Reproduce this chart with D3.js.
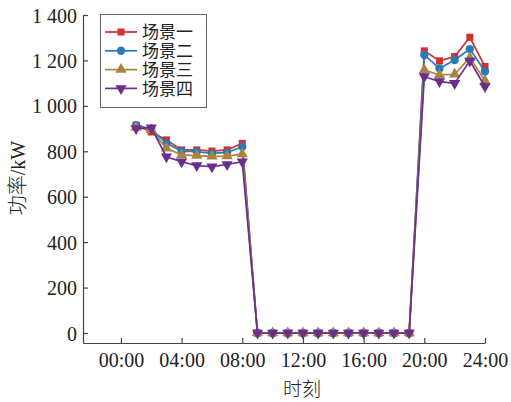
<!DOCTYPE html>
<html>
<head>
<meta charset="utf-8">
<script src="https://cdn.jsdelivr.net/npm/d3@7"></script>
<style>
  html, body { margin: 0; padding: 0; background: #fff; }
  svg { display: block; }
  text { font-family: "Liberation Serif", "Times New Roman", "Noto Sans CJK SC", serif; }
</style>
</head>
<body>
<svg id="chart" width="511" height="402"></svg>
<script>
const hours = d3.range(1, 25);
const seriesNames = ["场景一", "场景二", "场景三", "场景四"];
const scene1 = [915, 885, 850, 806, 806, 801, 806, 835, 0, 0, 0, 0, 0, 0, 0, 0, 0, 0, 0, 1242, 1198, 1217, 1302, 1173];
const scene2 = [915, 898, 835, 801, 798, 791, 795, 820, 0, 0, 0, 0, 0, 0, 0, 0, 0, 0, 0, 1224, 1165, 1202, 1250, 1151];
const scene3 = [905, 895, 813, 784, 781, 778, 779, 788, 0, 0, 0, 0, 0, 0, 0, 0, 0, 0, 0, 1158, 1136, 1139, 1212, 1110];
const scene4 = [900, 904, 776, 754, 737, 732, 742, 754, 0, 0, 0, 0, 0, 0, 0, 0, 0, 0, 0, 1129, 1107, 1099, 1198, 1085];
const yTicks = [0, 200, 400, 600, 800, 1000, 1200, 1400];
const xTicks = [0, 4, 8, 12, 16, 20, 24];
const xTickLabels = ["00:00", "04:00", "08:00", "12:00", "16:00", "20:00", "24:00"];
const colors = ["#d42e2e", "#2a7ab8", "#a8843c", "#6a2d90"];
const symbols = [d3.symbolSquare, d3.symbolCircle, d3.symbolTriangle, "down"];

const allSeries = [scene1, scene2, scene3, scene4];

const svg = d3.select("#chart");
const x = d3.scaleLinear().domain([-2.5, 24]).range([83, 485]);
const y = d3.scaleLinear().domain([-44, 1400]).range([343, 15]);
const axisColor = "#444";

const fmtY = d => d >= 1000 ? Math.floor(d / 1000) + " " + String(d % 1000).padStart(3, "0") : String(d);

// Y axis
const yAxis = svg.append("g").attr("transform", "translate(83,0)")
  .call(d3.axisLeft(y).tickValues(yTicks).tickFormat(fmtY).tickSizeInner(-5).tickSizeOuter(0).tickPadding(6));
yAxis.select(".domain").attr("stroke", axisColor).attr("stroke-width", 1.2);
yAxis.selectAll(".tick line").attr("stroke", axisColor).attr("stroke-width", 1.2);
yAxis.selectAll(".tick text").attr("font-size", 20).attr("fill", "#222")
  .attr("font-family", "'Liberation Serif', serif").attr("dy", "0.35em");

// X axis
const xAxis = svg.append("g").attr("transform", "translate(0,343)")
  .call(d3.axisBottom(x).tickValues(xTicks).tickFormat((d, i) => xTickLabels[i]).tickSizeInner(-5).tickSizeOuter(0).tickPadding(10));
xAxis.select(".domain").attr("stroke", axisColor).attr("stroke-width", 1.2);
xAxis.selectAll(".tick line").attr("stroke", axisColor).attr("stroke-width", 1.2);
xAxis.selectAll(".tick text").attr("font-size", 20).attr("fill", "#222")
  .attr("font-family", "'Liberation Serif', serif");

// Axis titles
svg.append("text").attr("x", 302).attr("y", 396).attr("text-anchor", "middle")
  .attr("font-size", 19).attr("fill", "#222")
  .attr("font-family", "'Noto Sans CJK SC', sans-serif").attr("font-weight", 300).text("时刻");
svg.append("text").attr("transform", "translate(25,178) rotate(-90)").attr("text-anchor", "middle")
  .attr("font-size", 20).attr("fill", "#222")
  .html('<tspan font-family="Noto Sans CJK SC, sans-serif" font-weight="300">功率</tspan><tspan font-family="Liberation Serif, serif">/kW</tspan>');

function markerPath(i, size) {
  if (symbols[i] === "down") {
    return d3.symbol().type(d3.symbolTriangle).size(size)();
  }
  return d3.symbol().type(symbols[i]).size(size)();
}
const markerSizes = [50, 55, 55, 55];

const line = d3.line().x((d, j) => x(hours[j])).y(d => y(d));

allSeries.forEach((vals, i) => {
  const g = svg.append("g");
  g.append("path").datum(vals).attr("d", line).attr("fill", "none")
    .attr("stroke", colors[i]).attr("stroke-width", 1.7);
  g.selectAll("path.m").data(vals).enter().append("path").attr("class", "m")
    .attr("d", markerPath(i, markerSizes[i]))
    .attr("transform", (d, j) => `translate(${x(hours[j])},${y(d)})` + (symbols[i] === "down" ? " rotate(180)" : ""))
    .attr("fill", colors[i]);
});

// Legend
const lg = svg.append("g");
lg.append("rect").attr("x", 100.5).attr("y", 14.5).attr("width", 106).attr("height", 93)
  .attr("fill", "#fff").attr("stroke", "#666").attr("stroke-width", 1);
seriesNames.forEach((name, i) => {
  const ly = 32 + i * 18.8;
  lg.append("line").attr("x1", 105).attr("x2", 137).attr("y1", ly).attr("y2", ly)
    .attr("stroke", colors[i]).attr("stroke-width", 1.7);
  lg.append("path").attr("d", markerPath(i, markerSizes[i]))
    .attr("transform", `translate(121,${ly})` + (symbols[i] === "down" ? " rotate(180)" : ""))
    .attr("fill", colors[i]);
  lg.append("text").attr("x", 142).attr("y", ly).attr("dy", "0.36em")
    .attr("font-size", 17).attr("fill", "#222")
    .attr("font-family", "'Liberation Serif', 'Noto Sans CJK SC', serif").text(name);
});
</script>
</body>
</html>
